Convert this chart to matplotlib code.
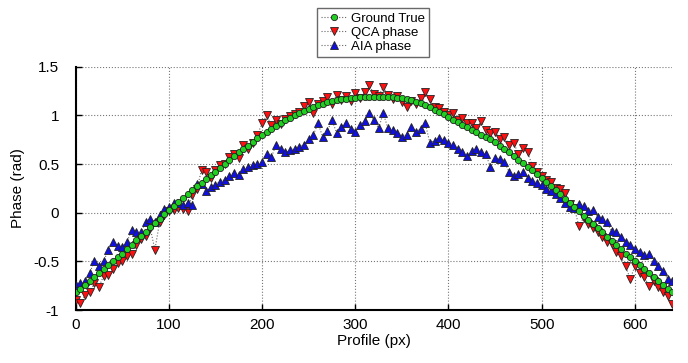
import numpy as np
import matplotlib
matplotlib.use("Agg")
import matplotlib.pyplot as plt

plt.rcParams['font.family'] = ['Liberation Sans', 'DejaVu Sans']
plt.rcParams['axes.unicode_minus'] = False

# profile positions (px), every 5 px
profile = list(range(0, 641, 5))

ground_true = [
    -0.82, -0.78, -0.74, -0.70, -0.66, -0.62, -0.58, -0.54, -0.50, -0.46,
    -0.42, -0.375, -0.33, -0.285, -0.24, -0.195, -0.15, -0.105, -0.06, -0.015,
    0.03, 0.07, 0.11, 0.15, 0.19, 0.23, 0.27, 0.31, 0.35, 0.385,
    0.42, 0.46, 0.50, 0.54, 0.58, 0.62, 0.655, 0.69, 0.73, 0.765,
    0.80, 0.83, 0.86, 0.89, 0.92, 0.95, 0.975, 1.00, 1.025, 1.05,
    1.07, 1.09, 1.105, 1.12, 1.135, 1.145, 1.155, 1.165, 1.17, 1.175,
    1.18, 1.185, 1.188, 1.19, 1.19, 1.19, 1.19, 1.188, 1.185, 1.18,
    1.175, 1.165, 1.155, 1.14, 1.125, 1.105, 1.085, 1.06, 1.035, 1.01,
    0.98, 0.955, 0.93, 0.905, 0.88, 0.855, 0.83, 0.80, 0.78, 0.755,
    0.73, 0.69, 0.655, 0.62, 0.58, 0.545, 0.51, 0.47, 0.435, 0.40,
    0.36, 0.32, 0.275, 0.23, 0.19, 0.145, 0.10, 0.06, 0.015, -0.03,
    -0.07, -0.115, -0.16, -0.20, -0.245, -0.29, -0.33, -0.375, -0.42, -0.46,
    -0.50, -0.54, -0.58, -0.62, -0.66, -0.70, -0.74, -0.78, -0.82,
]

qca_phase = [
    -0.90, -0.93, -0.85, -0.82, -0.72, -0.76, -0.65, -0.64, -0.58, -0.52,
    -0.50, -0.44, -0.42, -0.33, -0.27, -0.24, -0.16, -0.38, -0.10, -0.02,
    0.02, 0.03, 0.05, 0.04, 0.02, 0.18, 0.24, 0.44, 0.42, 0.36,
    0.44, 0.49, 0.50, 0.57, 0.60, 0.56, 0.70, 0.66, 0.72, 0.80,
    0.92, 1.00, 0.90, 0.95, 0.91, 0.96, 0.99, 1.01, 1.04, 1.10,
    1.14, 1.03, 1.12, 1.15, 1.19, 1.12, 1.21, 1.16, 1.20, 1.15,
    1.23, 1.18, 1.24, 1.31, 1.22, 1.20, 1.29, 1.21, 1.17, 1.20,
    1.14, 1.09, 1.15, 1.12, 1.18, 1.24, 1.17, 1.09, 1.08, 1.04,
    1.00, 1.02, 0.95, 0.97, 0.92, 0.92, 0.87, 0.94, 0.85, 0.82,
    0.83, 0.76, 0.78, 0.70, 0.72, 0.60, 0.67, 0.62, 0.48, 0.42,
    0.38, 0.34, 0.32, 0.25, 0.24, 0.20, 0.09, 0.05, -0.14, -0.05,
    -0.12, -0.16, -0.20, -0.25, -0.30, -0.32, -0.40, -0.45, -0.55, -0.68,
    -0.55, -0.62, -0.66, -0.75, -0.70, -0.76, -0.82, -0.86, -0.94,
]

aia_phase = [
    -0.74, -0.72, -0.70, -0.62, -0.50, -0.55, -0.50, -0.38, -0.30, -0.34,
    -0.35, -0.30, -0.18, -0.20, -0.20, -0.10, -0.06, -0.10, -0.02, 0.04,
    0.06, 0.10, 0.10, 0.08, 0.10, 0.08, 0.30, 0.30, 0.22, 0.26,
    0.29, 0.32, 0.34, 0.38, 0.41, 0.39, 0.45, 0.47, 0.49, 0.50,
    0.52, 0.60, 0.57, 0.70, 0.65, 0.62, 0.64, 0.66, 0.68, 0.70,
    0.76, 0.80, 0.92, 0.78, 0.84, 0.95, 0.82, 0.88, 0.92, 0.86,
    0.83, 0.90, 0.94, 1.02, 0.95, 0.87, 1.02, 0.87, 0.85, 0.82,
    0.78, 0.80, 0.88, 0.83, 0.86, 0.92, 0.72, 0.74, 0.77, 0.75,
    0.72, 0.70, 0.66, 0.62, 0.58, 0.63, 0.65, 0.62, 0.60, 0.47,
    0.56, 0.55, 0.52, 0.42, 0.38, 0.40, 0.42, 0.36, 0.33, 0.31,
    0.28, 0.24, 0.22, 0.19, 0.15, 0.10, 0.06, 0.05, 0.09, 0.07,
    0.02, 0.03, -0.04, -0.06, -0.10, -0.19, -0.20, -0.25, -0.30, -0.33,
    -0.37, -0.40, -0.43, -0.42, -0.50, -0.55, -0.60, -0.68, -0.70,
]

x_ticks = [0, 100, 200, 300, 400, 500, 600]
y_ticks = [-1, -0.5, 0, 0.5, 1, 1.5]
y_labels = ['-1', '-0.5', '0', '0.5', '1', '1.5']


def main():
    fig = plt.figure(figsize=(6.88, 3.63), dpi=100)
    ax = fig.add_axes([0.110, 0.146, 0.867, 0.670])

    line_kw = dict(ls=':', lw=0.8, color='#666666', markersize=5.5,
                   markeredgecolor='#222222', markeredgewidth=0.6)
    ax.plot(profile, qca_phase, marker='v', markerfacecolor='#ff1010',
            label='QCA phase', zorder=3, **line_kw)
    ax.plot(profile, aia_phase, marker='^', markerfacecolor='#1010e0',
            label='AIA phase', zorder=3, **line_kw)
    ax.plot(profile, ground_true, marker='o', markerfacecolor='#20d020',
            label='Ground True', zorder=4,
            **dict(line_kw, markersize=4.5))

    ax.set_xlim(0, 640)
    ax.set_ylim(-1, 1.5)
    ax.set_xticks(x_ticks)
    ax.set_yticks(y_ticks)
    ax.set_yticklabels(y_labels)
    ax.tick_params(direction='in', length=4, labelsize=11, width=1)
    ax.tick_params(axis='y', pad=12)
    ax.tick_params(axis='x', pad=6)
    ax.grid(True, ls=':', color='#777777', lw=0.8)
    ax.spines['top'].set_visible(False)
    ax.spines['right'].set_visible(False)
    ax.spines['left'].set_linewidth(1.5)
    ax.spines['bottom'].set_linewidth(1.5)
    ax.set_xlabel('Profile (px)', fontsize=11, labelpad=1)
    ax.set_ylabel('Phase (rad)', fontsize=11, labelpad=6)

    handles, labels = ax.get_legend_handles_labels()
    order = [2, 0, 1]
    fig.legend([handles[i] for i in order], [labels[i] for i in order],
               loc='upper center', bbox_to_anchor=(0.542, 0.995),
               fontsize=9.5, frameon=True, fancybox=False, edgecolor='#444444',
               handlelength=2, handletextpad=0.3, borderpad=0.3,
               labelspacing=0.15)

    fig.savefig('out.png', dpi=100)


if __name__ == "__main__":
    main()
